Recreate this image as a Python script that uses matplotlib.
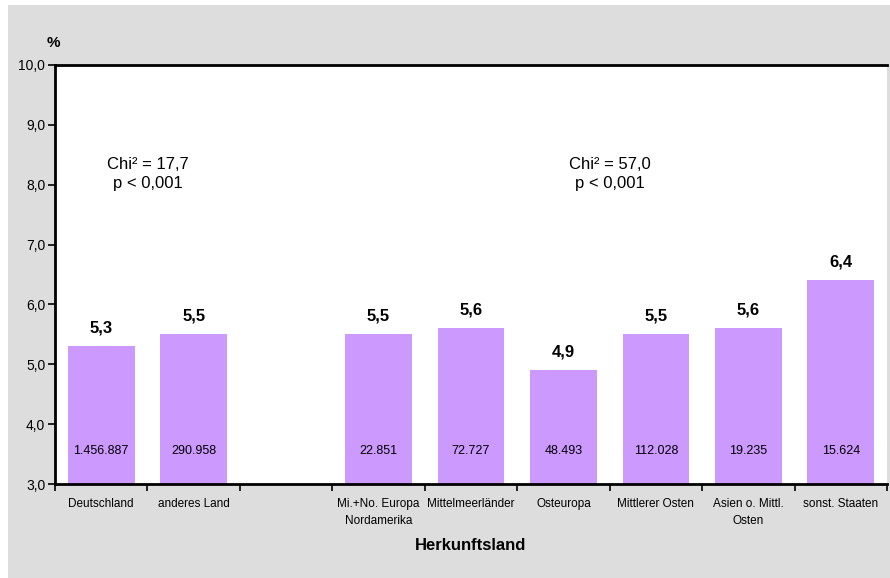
import matplotlib.pyplot as plt
from matplotlib.patches import Rectangle

plt.rcParams['font.family'] = ['Liberation Sans', 'DejaVu Sans']

# Herkunftsland categories (empty slot separates the two groups)
categories = ["Deutschland", "anderes Land", "",
              "Mi.+No. Europa\nNordamerika", "Mittelmeerländer", "Osteuropa",
              "Mittlerer Osten", "Asien o. Mittl.\nOsten", "sonst. Staaten"]
values = [5.3, 5.5, None, 5.5, 5.6, 4.9, 5.5, 5.6, 6.4]
counts = ["1.456.887", "290.958", "", "22.851", "72.727", "48.493",
          "112.028", "19.235", "15.624"]
chi_texts = ["Chi² = 17,7\np < 0,001", "Chi² = 57,0\np < 0,001"]
chi_x = [0.5, 5.5]

bar_color = "#CC99FF"

fig = plt.figure(figsize=(8.9, 5.78), dpi=100)
fig.patch.set_facecolor("white")
fig.patches.append(Rectangle((8 / 890, 0), 1, 1 - 5 / 578, transform=fig.transFigure,
                             facecolor="#DDDDDD", edgecolor="none", zorder=-10))

ax = fig.add_axes([55 / 890, 1 - 484 / 578, 832 / 890, 419 / 578])
ax.set_facecolor("white")

xs = [i for i, v in enumerate(values) if v is not None]
ys = [v for v in values if v is not None]
ax.bar(xs, [v - 3.0 for v in ys], bottom=3.0, width=0.72, color=bar_color, zorder=2)

for x, v in zip(xs, ys):
    ax.annotate(f"{v:.1f}".replace(".", ","), (x, v), xytext=(0, 8),
                textcoords="offset points", ha="center", va="bottom",
                fontsize=12, fontweight="bold", zorder=3)
    ax.text(x, 3.55, counts[x], ha="center", va="center", fontsize=9, zorder=3)

for x, t in zip(chi_x, chi_texts):
    ax.text(x, 8.18, t, ha="center", va="center", fontsize=12, linespacing=1.3)

ax.set_xlim(-0.5, len(categories) - 0.5)
ax.set_ylim(3.0, 10.0)
ax.set_yticks([3 + i for i in range(8)])
ax.set_yticklabels([f"{3 + i},0" for i in range(8)], fontsize=10)

# ticks between categories, labels centered in each slot
ax.set_xticks([i - 0.5 for i in range(len(categories) + 1)])
ax.set_xticklabels([])
ax.set_xticks(range(len(categories)), minor=True)
ax.set_xticklabels(categories, minor=True, fontsize=8.5, linespacing=1.6)
ax.tick_params(axis="x", which="minor", length=0, pad=10)
ax.tick_params(axis="x", which="major", length=5, width=1.2, direction="out")
ax.tick_params(axis="y", length=5, width=1.2, direction="out", pad=2)

for s in ["left", "bottom", "top"]:
    ax.spines[s].set_linewidth(2)
    ax.spines[s].set_color("black")
ax.spines["right"].set_visible(False)

ax.set_xlabel("Herkunftsland", fontsize=12, fontweight="bold", labelpad=8)
fig.text(53 / 890, 1 - 43 / 578, "%", ha="center", va="center",
         fontsize=11, fontweight="bold")

fig.savefig("out.png", dpi=100, facecolor=fig.get_facecolor())
